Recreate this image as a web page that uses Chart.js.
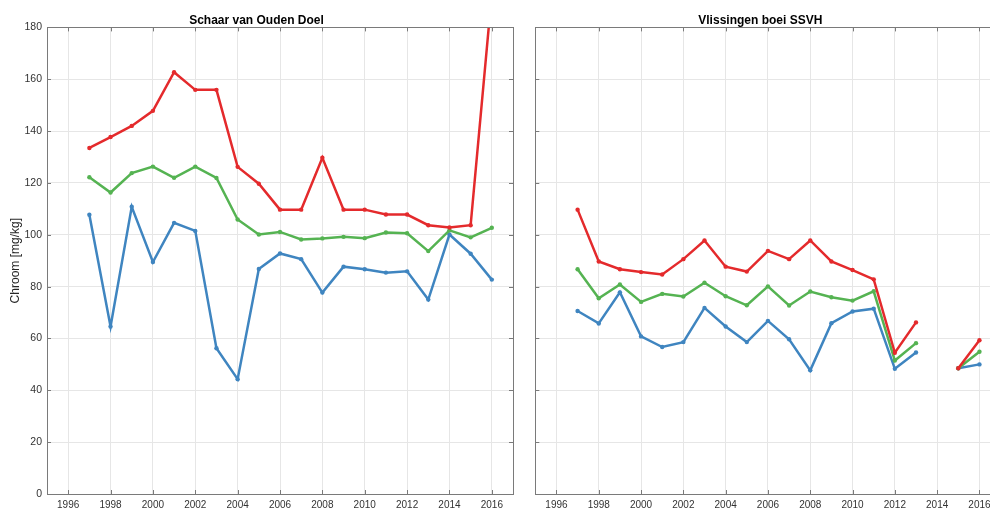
<!DOCTYPE html>
<html>
<head>
<meta charset="utf-8">
<script src="https://cdn.jsdelivr.net/npm/chart.js@4/dist/chart.umd.min.js"></script>
<style>
html, body { margin: 0; padding: 0; background: #fff; overflow: hidden; width: 990px; height: 510px; }
#wrap { position: relative; width: 990px; height: 510px; overflow: hidden; }
#left { position: absolute; left: 0; top: 0; }
#right { position: absolute; left: 520px; top: 0; }
</style>
</head>
<body>
<div id="wrap">
<canvas id="left" width="520" height="510"></canvas>
<canvas id="right" width="490" height="510"></canvas>
</div>
<script>
const years = [1997, 1998, 1999, 2000, 2001, 2002, 2003, 2004, 2005, 2006, 2007, 2008, 2009, 2010, 2011, 2012, 2013, 2014, 2015, 2016];
const yearTicks = [1996, 1998, 2000, 2002, 2004, 2006, 2008, 2010, 2012, 2014, 2016];

// Schaar van Ouden Doel
const doelRed   = [133.5, 137.7, 142, 147.8, 162.7, 155.9, 155.9, 126.2, 119.7, 109.7, 109.7, 129.7, 109.7, 109.7, 107.8, 107.8, 103.7, 102.8, 103.7, 193];
const doelGreen = [122.2, 116.3, 123.8, 126.3, 122, 126.3, 121.9, 105.9, 100.1, 101.1, 98.2, 98.6, 99.2, 98.7, 100.9, 100.6, 93.7, 101.7, 99, 102.7];
const doelBlue  = [107.7, 64.6, 110.8, 89.5, 104.6, 101.5, 56.2, 44.3, 86.8, 92.8, 90.6, 77.7, 87.7, 86.7, 85.4, 85.9, 75, 100.1, 92.7, 82.7];

// Vlissingen boei SSVH (no sample in 2014)
const vlisRed   = [109.7, 89.7, 86.7, 85.6, 84.7, 90.6, 97.8, 87.7, 85.8, 93.8, 90.6, 97.8, 89.7, 86.4, 82.8, 54.5, 66.2, null, 48.5, 59.3];
const vlisGreen = [86.7, 75.5, 80.8, 74.1, 77.2, 76.2, 81.5, 76.3, 72.8, 80.1, 72.7, 78.1, 75.9, 74.6, 78.2, 51.5, 58.2, null, 48.5, 54.9];
const vlisBlue  = [70.6, 65.8, 77.8, 60.8, 56.7, 58.6, 71.8, 64.6, 58.6, 66.8, 59.7, 47.7, 65.9, 70.4, 71.5, 48.3, 54.6, null, 48.5, 50];

const RED = '#e42a2c';
const GREEN = '#55b352';
const BLUE = '#3f85c0';

Chart.defaults.font.family = "'Liberation Sans', Arial, sans-serif";
Chart.defaults.color = '#262626';

function series(values, color)
{
    return {
        data: years.map((y, i) => ({ x: y, y: values[i] })),
        borderColor: color,
        backgroundColor: color,
        borderWidth: 2.5,
        pointRadius: 2.2,
        pointHoverRadius: 2.2,
        pointBorderWidth: 0,
        tension: 0,
        spanGaps: false
    };
}

// box round the axes with inward ticks, like the original
const framePlugin = {
    id: 'frame',
    afterDraw(chart)
    {
        const { ctx, chartArea: a, scales } = chart;
        ctx.save();
        ctx.strokeStyle = '#7a7a7a';
        ctx.lineWidth = 1;
        ctx.beginPath();
        for (const t of scales.x.ticks)
        {
            const px = Math.round(scales.x.getPixelForValue(t.value)) + 0.5;
            ctx.moveTo(px, a.bottom);
            ctx.lineTo(px, a.bottom - 4);
            ctx.moveTo(px, a.top);
            ctx.lineTo(px, a.top + 4);
        }
        for (const t of scales.y.ticks)
        {
            const py = Math.round(scales.y.getPixelForValue(t.value)) + 0.5;
            ctx.moveTo(a.left, py);
            ctx.lineTo(a.left + 4, py);
            ctx.moveTo(a.right, py);
            ctx.lineTo(a.right - 4, py);
        }
        ctx.stroke();
        ctx.strokeRect(Math.round(a.left) + 0.5, Math.round(a.top) + 0.5,
            Math.round(a.right - a.left), Math.round(a.bottom - a.top));
        ctx.restore();
    }
};

function makeChart(id, title, red, green, blue, showY, yWidth, padRight)
{
    return new Chart(document.getElementById(id), {
        type: 'line',
        data: {
            datasets: [series(red, RED), series(green, GREEN), series(blue, BLUE)]
        },
        options: {
            responsive: false,
            animation: false,
            layout: {
                padding: { left: 0, right: padRight, top: 0, bottom: 0 }
            },
            plugins: {
                legend: { display: false },
                tooltip: { enabled: false },
                title: {
                    display: true,
                    text: title,
                    font: { size: 12, weight: 'bold' },
                    color: '#000',
                    padding: { top: 13, bottom: 0 }
                }
            },
            scales: {
                x: {
                    type: 'linear',
                    min: 1995,
                    max: 2017,
                    afterBuildTicks: function (axis)
                    {
                        axis.ticks = yearTicks.map(v => ({ value: v }));
                    },
                    afterFit: function (scale)
                    {
                        scale.height = 16;
                    },
                    grid: {
                        color: '#e6e6e6',
                        drawTicks: false
                    },
                    border: { display: false },
                    ticks: {
                        font: { size: 10 },
                        color: '#333',
                        padding: 5,
                        maxRotation: 0,
                        autoSkip: false,
                        callback: function (value)
                        {
                            return String(value);
                        }
                    }
                },
                y: {
                    min: 0,
                    max: 180,
                    afterFit: function (scale)
                    {
                        scale.width = yWidth;
                    },
                    grid: {
                        color: '#e6e6e6',
                        drawTicks: false
                    },
                    border: { display: false },
                    title: {
                        display: showY,
                        text: 'Chroom [mg/kg]',
                        font: { size: 12 },
                        color: '#262626',
                        padding: { top: 8, bottom: 0 }
                    },
                    ticks: {
                        display: showY,
                        stepSize: 20,
                        font: { size: 10.5 },
                        color: '#333',
                        padding: 5
                    }
                }
            }
        },
        plugins: [framePlugin]
    });
}

makeChart('left', 'Schaar van Ouden Doel', doelRed, doelGreen, doelBlue, true, 47, 7);
makeChart('right', 'Vlissingen boei SSVH', vlisRed, vlisGreen, vlisBlue, false, 15.3, 9.4);
</script>
</body>
</html>
